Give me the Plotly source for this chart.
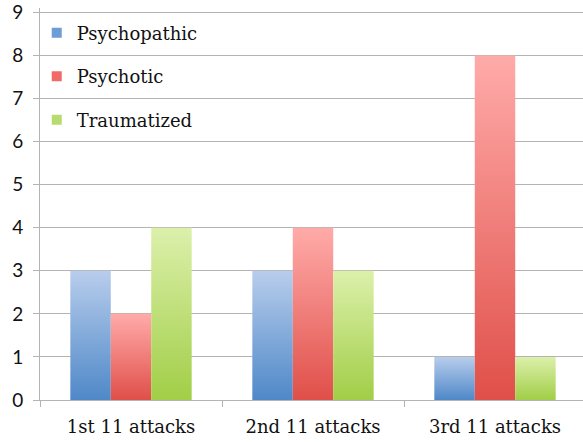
import plotly.graph_objects as go

# Number of attacks by attacker profile, per block of 11 attacks
categories = ["1st 11 attacks", "2nd 11 attacks", "3rd 11 attacks"]
series_names = ["Psychopathic", "Psychotic", "Traumatized"]
psychopathic = [3, 3, 1]
psychotic = [2, 4, 8]
traumatized = [4, 3, 1]
y_ticks = list(range(0, 10))

series_values = [psychopathic, psychotic, traumatized]
# (bottom colour, top colour) of each series' vertical gradient
gradients = [
    ("#4f88c8", "#b8cdec"),
    ("#e04f49", "#ffaba9"),
    ("#a1ce47", "#dcf0ab"),
]
legend_colors = ["#6d9dd6", "#f06b67", "#b6dc70"]

bar_w = 1 / 4.5          # three bars plus a 150% gap fill one category
n_series = len(series_values)

fig = go.Figure()

for s, (name, vals) in enumerate(zip(series_names, series_values)):
    bottom, top = gradients[s]
    offset = (s - (n_series - 1) / 2) * bar_w
    for i, v in enumerate(vals):
        x0 = i + offset - bar_w / 2
        x1 = i + offset + bar_w / 2
        fig.add_trace(go.Scatter(
            x=[x0, x1, x1, x0, x0],
            y=[0, 0, v, v, 0],
            mode="lines",
            fill="toself",
            line=dict(width=0),
            fillgradient=dict(type="vertical", start=0, stop=v,
                              colorscale=[[0, bottom], [1, top]]),
            showlegend=False,
            hoverinfo="skip",
        ))

# legend entries
for s, name in enumerate(series_names):
    fig.add_trace(go.Scatter(
        x=[None], y=[None], mode="markers", name=name,
        marker=dict(symbol="square", size=10, color=legend_colors[s]),
        legendgroup=name,
    ))

grid = "#b4b4b4"
fig.update_layout(
    width=583, height=442,
    margin=dict(l=40, r=0, t=8, b=42),
    plot_bgcolor="white", paper_bgcolor="white",
    showlegend=True,
    legend=dict(
        x=-0.006, y=0.983, xanchor="left", yanchor="top",
        font=dict(family="DejaVu Serif", size=18, color="#111111"),
        traceorder="grouped", tracegroupgap=17,
        bgcolor="rgba(0,0,0,0)",
    ),
    xaxis=dict(
        range=[-0.5, -0.5 + 543 / 182],
        tickmode="array",
        tickvals=list(range(len(categories))),
        ticktext=categories,
        ticks="",
        showgrid=False,
        zeroline=False,
        showline=True, linecolor=grid, linewidth=1,
        tickfont=dict(family="DejaVu Serif", size=18, color="#111111"),
        ticklabelstandoff=10,
        minor=dict(tick0=-0.5, dtick=1, ticks="outside", ticklen=6,
                   tickcolor=grid, tickwidth=1, showgrid=False),
        fixedrange=True,
    ),
    yaxis=dict(
        range=[0, 9.1],
        tickmode="array", tickvals=y_ticks,
        ticks="outside", ticklen=6, tickcolor=grid, tickwidth=1,
        showgrid=True, gridcolor=grid, gridwidth=1,
        zeroline=False,
        showline=True, linecolor=grid, linewidth=1,
        tickfont=dict(family="Lato", size=19, color="#111111"),
        ticklabelstandoff=6,
        ticklabeloverflow="allow",
        fixedrange=True,
    ),
)

fig.write_html("out.html")
